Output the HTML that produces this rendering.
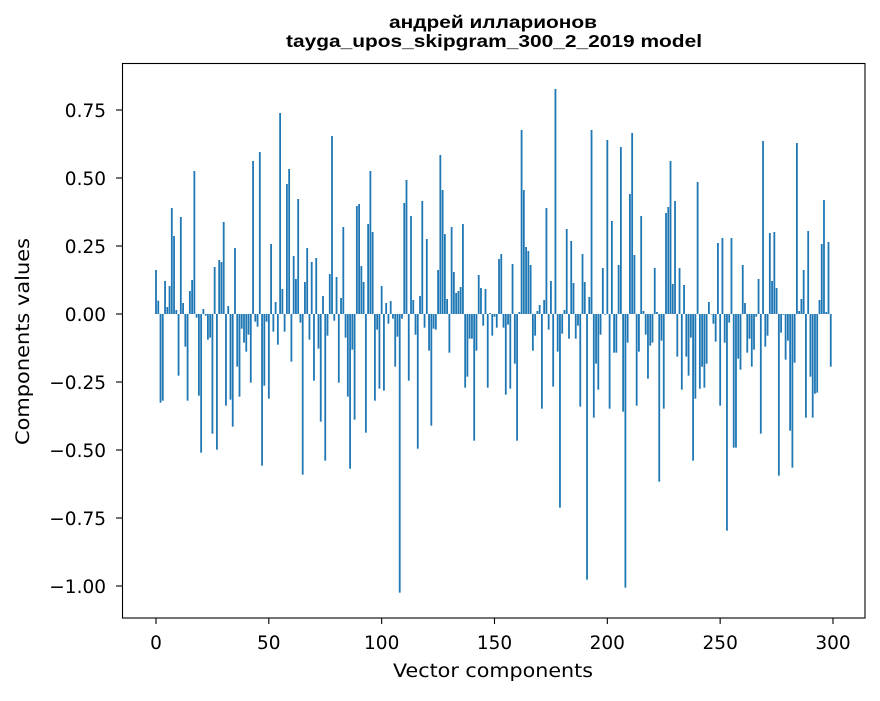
<!DOCTYPE html>
<html><head><meta charset="utf-8"><style>
html,body{margin:0;padding:0;background:#fff;}
svg text{font-family:"DejaVu Sans","Liberation Sans",sans-serif;fill:#000;}
svg .t{font-family:"Liberation Sans","DejaVu Sans",sans-serif;}
</style></head><body>
<svg id="s" width="880" height="696" viewBox="0 0 880 696" xmlns="http://www.w3.org/2000/svg">
<rect width="880" height="696" fill="#fff"/>
<g id="bars" fill="#1f77b4"></g>
<rect x="122.5" y="63.5" width="742.5" height="554.5" fill="none" stroke="#000" stroke-width="1.1"/>
<g id="ticks" stroke="#000" stroke-width="1.1"></g>
<g font-size="18.5">
<text x="156" y="649" text-anchor="middle">0</text>
<text x="268.8" y="649" text-anchor="middle">50</text>
<text x="381.7" y="649" text-anchor="middle">100</text>
<text x="494.5" y="649" text-anchor="middle">150</text>
<text x="607.3" y="649" text-anchor="middle">200</text>
<text x="720.2" y="649" text-anchor="middle">250</text>
<text x="833" y="649" text-anchor="middle">300</text>
<g text-anchor="end">
<text x="106" y="117">0.75</text>
<text x="106" y="185">0.50</text>
<text x="106" y="253">0.25</text>
<text x="106" y="321">0.00</text>
<text x="106" y="389">−0.25</text>
<text x="106" y="457">−0.50</text>
<text x="106" y="525">−0.75</text>
<text x="106" y="593">−1.00</text>
</g>
<text x="393" y="677" textLength="200" lengthAdjust="spacingAndGlyphs">Vector components</text>
<text transform="translate(29,445) rotate(-90)" textLength="207" lengthAdjust="spacingAndGlyphs">Components values</text>
</g>
<g class="t" font-size="17.5" font-weight="bold">
<text class="t" x="389" y="28" textLength="208" lengthAdjust="spacingAndGlyphs">андрей илларионов</text>
<text class="t" x="286" y="47" textLength="416" lengthAdjust="spacingAndGlyphs">tayga_upos_skipgram_300_2_2019 model</text>
</g>
</svg>
<script>
var z=[570,662,968,962,603,681,618,384,468,690,887,411,669,800,962,633,600,273,713,947,1118,687,707,779,773,1061,561,1109,540,546,426,977,678,959,1040,504,860,950,746,788,815,764,908,243,725,740,216,1157,917,725,956,
492,755,666,794,99,627,755,312,267,845,528,597,357,728,1184,606,504,779,546,902,534,806,1025,648,1142,767,582,168,722,591,908,654,441,773,950,1166,809,1019,378,372,558,606,1058,432,273,456,962,749,926,618,932,
669,731,663,716,860,770,1538,716,369,300,902,408,660,764,1106,648,363,743,477,812,1037,746,749,570,225,330,462,657,818,441,576,639,633,621,432,923,890,776,776,1082,812,585,624,737,627,923,699,767,710,743,537,
522,743,944,734,926,552,851,1082,696,150,330,501,513,555,812,767,693,675,986,660,384,749,603,920,27,815,1283,761,690,447,776,483,609,776,737,980,522,606,1499,651,150,1013,851,929,764,564,704,180,986,423,818,
818,555,201,995,1523,788,342,159,525,977,815,408,693,764,896,797,788,564,696,1205,782,986,399,381,243,612,363,830,564,929,615,830,887,773,1142,956,306,926,860,923,851,666,702,731,785,489,977,474,788,1352,728,
474,1103,1103,836,869,555,669,818,776,860,809,710,597,1061,183,800,767,459,603,456,624,1187,758,704,839,782,1052,1163,848,189,693,657,570,1013,453,890,1013,941,938,660,492,360,696,486,860];
var g=document.getElementById('bars'),h='';
for(var i=0;i<z.length;i++){var t=80+z[i]/3,x=156+2.2567*i-0.9;var y0=Math.min(t,314),hh=Math.abs(314-t);if(hh<0.3)hh=0.3;
h+='<rect x="'+x.toFixed(2)+'" y="'+y0.toFixed(2)+'" width="1.8" height="'+hh.toFixed(2)+'"/>';}
g.innerHTML=h;
var tk='';
for(var k=0;k<7;k++){var xx=156+112.83*k;tk+='<line x1="'+xx+'" y1="618" x2="'+xx+'" y2="624"/>';}
for(var k=0;k<8;k++){var yy=110+68*k;tk+='<line x1="122" y1="'+yy+'" x2="116" y2="'+yy+'"/>';}
document.getElementById('ticks').innerHTML=tk;
</script>
</body></html>
